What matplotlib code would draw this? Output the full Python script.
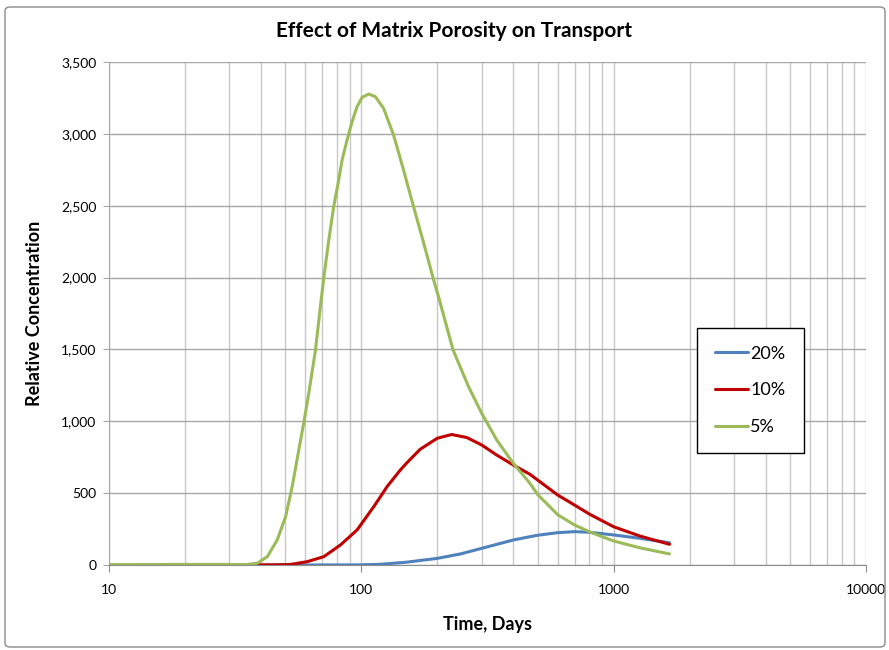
import numpy as np
import matplotlib
matplotlib.use("Agg")
import matplotlib.pyplot as plt
from matplotlib.ticker import FuncFormatter, LogLocator, NullFormatter
from matplotlib.patches import FancyBboxPatch

plt.rcParams['font.family'] = ['Lato', 'DejaVu Sans']

# series (time in days, relative concentration)
t_20 = [10, 60, 100, 119, 150, 200, 247, 300, 400, 466, 500, 600, 700, 800, 1000, 1268, 1664]
c_20 = [0, 0, 1, 5, 19, 46, 77, 116, 174, 197, 207, 225, 232, 228, 209, 186, 155]

t_10 = [10, 30, 45, 52, 61, 71, 82.6, 96.2, 112, 119, 126.4, 142.6, 151.7, 171, 200, 228, 262,
        300, 344, 400, 466, 500, 600, 700, 800, 900, 1000, 1268, 1664]
c_10 = [0, 0, 1, 3, 23, 58, 139, 244, 406, 475, 545, 660, 712, 805, 882, 908, 887,
        835, 765, 696, 631, 591, 487, 417, 355, 308, 266, 202, 144]

t_5 = [10, 20, 30, 35, 38.7, 42.4, 46.4, 50.1, 53.2, 56.5, 59.2, 61.9, 65.8, 69.3, 71, 74.3, 77.7,
       80.9, 83.9, 87.8, 91.9, 96.2, 100.7, 107, 113.6, 122.5, 134.2, 147, 161, 176, 193, 202,
       231, 266, 300, 344, 400, 466, 500, 600, 700, 800, 900, 1000, 1268, 1664]
c_5 = [3, 4, 4, 3, 12, 58, 174, 336, 545, 800, 993, 1195, 1496, 1844, 2000, 2261, 2494,
       2656, 2818, 2957, 3085, 3189, 3254, 3277, 3259, 3178, 2992, 2748, 2494, 2250, 1990, 1870,
       1496, 1241, 1055, 870, 708, 568, 490, 350, 278, 232, 197, 167, 120, 77]

labels = ["20%", "10%", "5%"]
colors = ["#4F81BD", "#C00000", "#9BBB59"]

fig = plt.figure(figsize=(8.89, 6.5), dpi=100)
ax = fig.add_axes([109 / 889, 85 / 650, 757 / 889, 503 / 650])

for t, c, lab, col in zip([t_20, t_10, t_5], [c_20, c_10, c_5], labels, colors):
    ax.plot(t, c, color=col, lw=2.2, label=lab, solid_capstyle='round', solid_joinstyle='round')

ax.set_xscale('log')
ax.set_xlim(10, 10000)
ax.set_ylim(0, 3500)
ax.set_yticks(np.arange(0, 3501, 500))
ax.yaxis.set_major_formatter(FuncFormatter(lambda v, p: f"{int(v):,}"))
ax.xaxis.set_major_locator(LogLocator(base=10))
ax.xaxis.set_major_formatter(FuncFormatter(lambda v, p: f"{int(v)}"))
ax.xaxis.set_minor_locator(LogLocator(base=10, subs=np.arange(2, 10)))
ax.xaxis.set_minor_formatter(NullFormatter())

ax.grid(True, axis='x', which='both', color='#c8c8c8', lw=1.0)
ax.grid(True, axis='y', which='major', color='#a6a6a6', lw=1.0)
ax.set_axisbelow(True)

for s in ['top', 'right']:
    ax.spines[s].set_visible(False)
ax.spines['left'].set_color('#a6a6a6')
ax.spines['bottom'].set_color('#8c8c8c')
ax.tick_params(axis='x', which='major', length=5, color='#8c8c8c', labelsize=10, pad=9)
ax.tick_params(axis='x', which='minor', length=0)
ax.tick_params(axis='y', length=4, color='#a6a6a6', labelsize=10, pad=5)

fig.text(454 / 889, 1 - 31 / 650, "Effect of Matrix Porosity on Transport",
         fontsize=15, fontweight='bold', ha='center', va='center')
ax.set_xlabel("Time, Days", fontsize=13, fontweight='bold', labelpad=14)
ax.set_ylabel("Relative Concentration", fontsize=13, fontweight='bold', labelpad=13)

leg = ax.legend(loc='upper left', bbox_to_anchor=(0.777, 0.472), fontsize=13,
                frameon=True, fancybox=False, edgecolor='black', labelspacing=1.15,
                handlelength=1.8, handletextpad=0.15, borderpad=1.0, borderaxespad=0)
leg.get_frame().set_linewidth(1.0)
leg.get_frame().set_alpha(1)

# outer chart border
fig.patches.append(FancyBboxPatch((5 / 889, 3 / 650), 880 / 889, 640 / 650,
                                  boxstyle="round,pad=0,rounding_size=0.006",
                                  transform=fig.transFigure, fill=False,
                                  edgecolor='#8c8c8c', lw=1.0))

fig.savefig("out.png", dpi=100)
